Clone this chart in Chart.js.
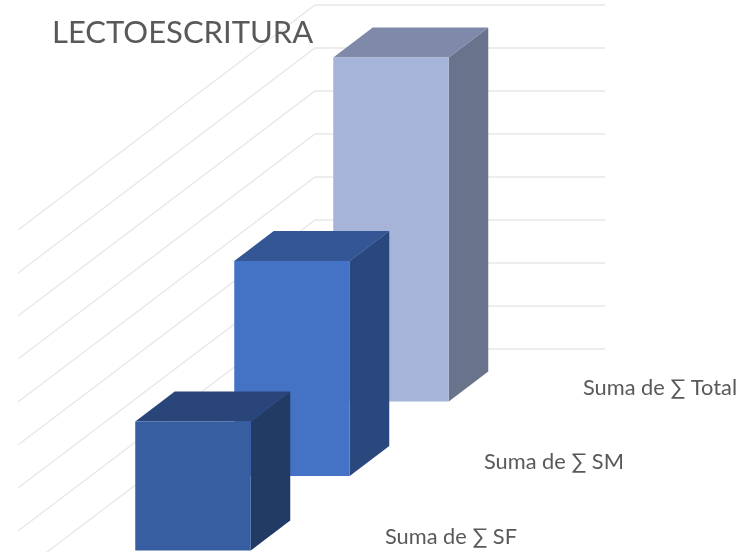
<!DOCTYPE html>
<html>
<head>
<meta charset="utf-8">
<title>LECTOESCRITURA</title>
<style>
  html, body { margin: 0; padding: 0; background: #ffffff; }
  canvas { display: block; }
</style>
<script src="https://cdn.jsdelivr.net/npm/chart.js@4/dist/chart.umd.js"></script>
</head>
<body>
<canvas id="chart" width="744" height="552"></canvas>
<script>
const titleText = "LECTOESCRITURA";
const categories = ["Suma de ∑ SF", "Suma de ∑ SM", "Suma de ∑ Total"];
const values = [3, 5, 8];
const frontColors = ["#365ea0", "#4472c4", "#a6b4da"];
const topColors = ["#2a457a", "#345694", "#7f89aa"];
const sideColors = ["#223b65", "#2a487d", "#69748c"];

const textColor = "#595959";
const gridColor = "#e7e7e7";
const fontFamily = "Lato, 'Noto Sans', sans-serif";

// perspective of the boxes and of the floor
const depthX = 39.5;
const depthY = 30;
const floorSlope = 0.7525;
const frontGap = 52.5; // back wall floor to the floor of the last bar
const wallLeft = 315;
const wallRight = 605;
const wallRun = 297;
const wallDrop = 225;

function floorShift(chart, index) {
  const x = chart.scales.x;
  const last = categories.length - 1;
  return frontGap + (x.getPixelForValue(last) - x.getPixelForValue(index)) * floorSlope;
}

function polygon(ctx, points, fill) {
  ctx.beginPath();
  points.forEach(function (p, i) {
    if (i === 0) ctx.moveTo(p[0], p[1]);
    else ctx.lineTo(p[0], p[1]);
  });
  ctx.closePath();
  ctx.fillStyle = fill;
  ctx.fill();
}

class Bar3DController extends Chart.BarController {
  draw() {
    const ctx = this.chart.ctx;
    const bars = this.getMeta().data;
    // back to front, each bar hides the one behind it
    for (let i = bars.length - 1; i >= 0; i--) {
      const bar = bars[i];
      const left = bar.x - bar.width / 2;
      const right = bar.x + bar.width / 2;
      ctx.save();
      ctx.translate(0, floorShift(this.chart, i));
      polygon(ctx, [
        [right, bar.y],
        [right + depthX, bar.y - depthY],
        [right + depthX, bar.base - depthY],
        [right, bar.base]
      ], sideColors[i]);
      polygon(ctx, [
        [left, bar.y],
        [left + depthX, bar.y - depthY],
        [right + depthX, bar.y - depthY],
        [right, bar.y]
      ], topColors[i]);
      bar.draw(ctx);
      ctx.restore();
    }
  }
}
Bar3DController.id = "bar3d";
Bar3DController.defaults = Chart.BarController.defaults;
Bar3DController.overrides = Chart.BarController.overrides;
Chart.register(Bar3DController);

const wallPlugin = {
  id: "wall",
  beforeDatasetsDraw(chart) {
    const ctx = chart.ctx;
    const y = chart.scales.y;
    ctx.save();
    ctx.strokeStyle = gridColor;
    ctx.lineWidth = 1.3;
    y.ticks.forEach(function (tick) {
      const py = y.getPixelForValue(tick.value);
      ctx.beginPath();
      ctx.moveTo(wallRight, py);
      ctx.lineTo(wallLeft, py);
      ctx.lineTo(wallLeft - wallRun, py + wallDrop);
      ctx.stroke();
    });
    ctx.restore();
  }
};

const textPlugin = {
  id: "texts",
  afterDraw(chart) {
    const ctx = chart.ctx;
    const x = chart.scales.x;
    const y = chart.scales.y;
    ctx.save();
    ctx.fillStyle = textColor;
    ctx.textBaseline = "alphabetic";
    ctx.font = "31px " + fontFamily;
    ctx.fillText(titleText, 52, 43);
    ctx.font = "21.8px " + fontFamily;
    categories.forEach(function (label, i) {
      const px = x.getPixelForValue(i) + 192;
      const py = y.getPixelForValue(0) + floorShift(chart, i) - 6.5;
      ctx.fillText(label, px, py);
    });
    ctx.restore();
  }
};

new Chart(document.getElementById("chart"), {
  type: "bar3d",
  data: {
    labels: categories,
    datasets: [{
      data: values,
      backgroundColor: frontColors,
      borderWidth: 0,
      inflateAmount: 0,
      barThickness: 115.5,
      clip: false
    }]
  },
  options: {
    responsive: false,
    animation: false,
    layout: { padding: { left: 143.5, right: 303.5, top: 5, bottom: 203 } },
    plugins: {
      legend: { display: false },
      tooltip: { enabled: false }
    },
    scales: {
      x: { type: "category", display: false },
      y: { type: "linear", display: false, min: 0, max: 8, ticks: { stepSize: 1 } }
    }
  },
  plugins: [wallPlugin, textPlugin]
});
</script>
</body>
</html>
